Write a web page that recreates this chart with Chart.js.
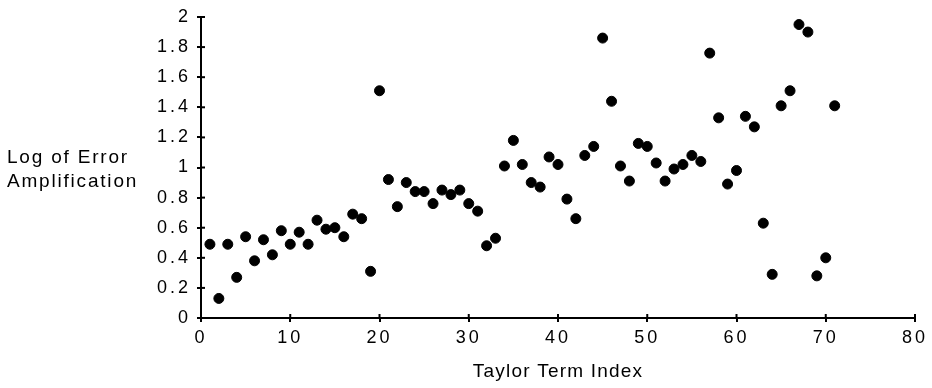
<!DOCTYPE html>
<html>
<head>
<meta charset="utf-8">
<script src="https://cdn.jsdelivr.net/npm/chart.js@4.4.1/dist/chart.umd.min.js"></script>
<style>
  html, body { margin: 0; padding: 0; background: #fff; }
  #wrap { position: relative; width: 932px; height: 388px; }
</style>
</head>
<body>
<div id="wrap"><canvas id="errChart" width="932" height="388"></canvas></div>
<script>
const termIndex = [
  1, 2, 3, 4, 5, 6, 7, 8, 9, 10,
  11, 12, 13, 14, 15, 16, 17, 18, 19, 20,
  21, 22, 23, 24, 25, 26, 27, 28, 29, 30,
  31, 32, 33, 34, 35, 36, 37, 38, 39, 40,
  41, 42, 43, 44, 45, 46, 47, 48, 49, 50,
  51, 52, 53, 54, 55, 56, 57, 58, 59, 60,
  61, 62, 63, 64, 65, 66, 67, 68, 69, 70,
  71
];
const logErrorAmp = [
  0.49, 0.13, 0.49, 0.27, 0.54, 0.38, 0.52, 0.42, 0.58, 0.49,
  0.57, 0.49, 0.65, 0.59, 0.60, 0.54, 0.69, 0.66, 0.31, 1.51,
  0.92, 0.74, 0.90, 0.84, 0.84, 0.76, 0.85, 0.82, 0.85, 0.76,
  0.71, 0.48, 0.53, 1.01, 1.18, 1.02, 0.90, 0.87, 1.07, 1.02,
  0.79, 0.66, 1.08, 1.14, 1.86, 1.44, 1.01, 0.91, 1.16, 1.14,
  1.03, 0.91, 0.99, 1.02, 1.08, 1.04, 1.76, 1.33, 0.89, 0.98,
  1.34, 1.27, 0.63, 0.29, 1.41, 1.51, 1.95, 1.90, 0.28, 0.40,
  1.41
];
const xTicks = [0, 80, 10];   // min, max, step
const yTicks = [0, 2, 0.2];
const xTitle = 'Taylor Term Index';
const yTitle = ['Log of Error', 'Amplification'];

const FONT = "'Liberation Sans', Arial, sans-serif";

// wider letter spacing on the tick labels, like the original typeset
const spacedTicks = {
  id: 'spacedTicks',
  beforeDraw(chart) {
    ['x', 'y'].forEach(id => {
      const s = chart.scales[id];
      if (s._spaced) return;
      const orig = s.drawLabels;
      s.drawLabels = function (area) {
        const c = this.ctx;
        c.save();
        c.letterSpacing = '3px';
        orig.call(this, area);
        c.restore();
      };
      const origTitle = s.drawTitle;
      s.drawTitle = function (area) {
        const c = this.ctx;
        c.save();
        c.letterSpacing = '1.2px';
        origTitle.call(this, area);
        c.restore();
      };
      s._spaced = true;
    });
  }
};

// tick marks poke into the plot area too, and the y title sits flat
const axisExtras = {
  id: 'axisExtras',
  afterDraw(chart) {
    const c = chart.ctx;
    const xs = chart.scales.x, ys = chart.scales.y;
    const a = chart.chartArea;
    c.save();
    c.strokeStyle = '#000';
    c.lineWidth = 2;
    xs.ticks.forEach(t => {
      const px = xs.getPixelForValue(t.value);
      c.beginPath(); c.moveTo(px, a.bottom); c.lineTo(px, a.bottom - 4); c.stroke();
    });
    ys.ticks.forEach(t => {
      const py = ys.getPixelForValue(t.value);
      c.beginPath(); c.moveTo(a.left, py); c.lineTo(a.left + 4, py); c.stroke();
    });
    c.fillStyle = '#000';
    c.font = '19px ' + FONT;
    c.letterSpacing = '1.8px';
    c.textAlign = 'left';
    c.textBaseline = 'middle';
    c.fillText(yTitle[0], 7, 158);
    c.fillText(yTitle[1], 7, 182);
    c.restore();
  }
};

const ctx = document.getElementById('errChart').getContext('2d');
new Chart(ctx, {
  type: 'scatter',
  data: {
    datasets: [{
      data: termIndex.map((x, i) => ({ x: x, y: logErrorAmp[i] })),
      backgroundColor: '#000',
      borderColor: '#000',
      pointRadius: 5,
      pointHoverRadius: 5
    }]
  },
  options: {
    responsive: false,
    animation: false,
    layout: { padding: { top: 17, right: 17, left: 0, bottom: 0 } },
    plugins: { legend: { display: false }, tooltip: { enabled: false } },
    scales: {
      x: {
        type: 'linear',
        min: xTicks[0], max: xTicks[1],
        afterFit: s => { s.height = 70; },
        border: { color: '#000', width: 2 },
        grid: { drawOnChartArea: false, color: '#000', lineWidth: 2, tickLength: 4 },
        ticks: {
          stepSize: xTicks[2], color: '#000', padding: 5,
          font: { family: FONT, size: 18 }
        },
        title: {
          display: true, text: xTitle, color: '#000',
          font: { family: FONT, size: 19 },
          padding: { top: 0, bottom: 5 }
        }
      },
      y: {
        type: 'linear',
        min: yTicks[0], max: yTicks[1],
        afterFit: s => { s.width = 201; },
        border: { color: '#000', width: 2 },
        grid: { drawOnChartArea: false, color: '#000', lineWidth: 2, tickLength: 4 },
        ticks: {
          stepSize: yTicks[2], color: '#000', padding: 6,
          font: { family: FONT, size: 18 },
          callback: v => String(Number(v.toFixed(1)))
        }
      }
    }
  },
  plugins: [spacedTicks, axisExtras]
});
</script>
</body>
</html>
